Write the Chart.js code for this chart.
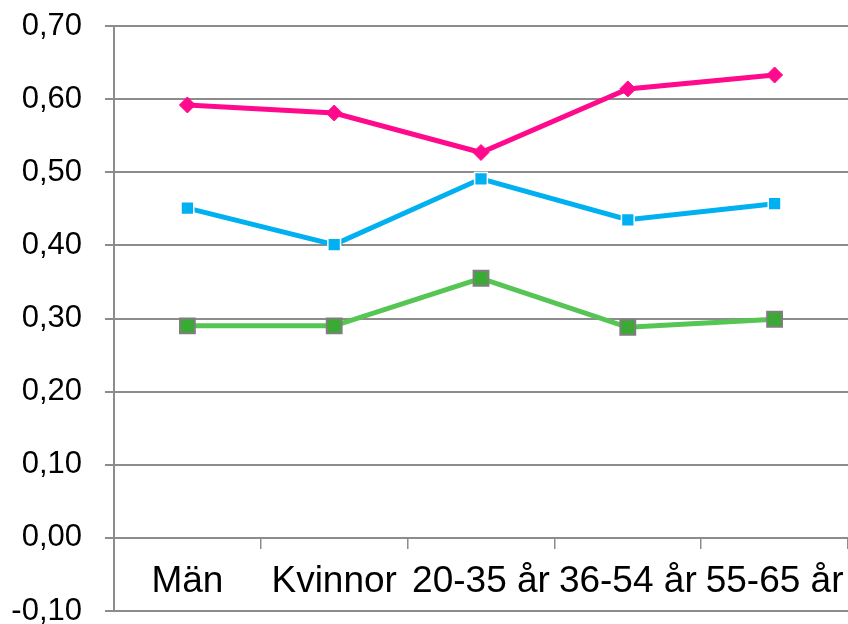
<!DOCTYPE html>
<html>
<head>
<meta charset="utf-8">
<script src="https://cdn.jsdelivr.net/npm/chart.js@4.4.0/dist/chart.umd.min.js"></script>
<style>
    html, body { margin: 0; padding: 0; background: #fff; overflow: hidden; }
</style>
</head>
<body>
<canvas id="lineChart" width="848" height="624"></canvas>
<script>
// categories and series
const categories = ['Män', 'Kvinnor', '20-35 år', '36-54 år', '55-65 år'];
const pinkValues = [0.592, 0.581, 0.527, 0.614, 0.633];
const blueValues = [0.451, 0.401, 0.491, 0.435, 0.457];
const greenValues = [0.290, 0.290, 0.355, 0.288, 0.299];
const yMin = -0.1;
const yMax = 0.7;
const yStep = 0.1;

Chart.defaults.font.family = '"Liberation Sans", Arial, sans-serif';
Chart.defaults.color = '#000';

const ctx = document.getElementById('lineChart').getContext('2d');

const data = {
    labels: categories,
    datasets: [
        {
            label: 'green',
            data: greenValues,
            borderColor: '#55c553',
            borderWidth: 5,
            pointStyle: 'rect',
            pointRadius: 10.5,
            pointBackgroundColor: '#3aaa35',
            pointBorderColor: '#7f7f7f',
            pointBorderWidth: 2,
            tension: 0
        },
        {
            label: 'blue',
            data: blueValues,
            borderColor: '#00b0f0',
            borderWidth: 5,
            pointStyle: 'rect',
            pointRadius: 9,
            pointBackgroundColor: '#00b0f0',
            pointBorderColor: '#ffffff',
            pointBorderWidth: 1.5,
            tension: 0
        },
        {
            label: 'pink',
            data: pinkValues,
            borderColor: '#ff0a8c',
            borderWidth: 5,
            pointStyle: 'rectRot',
            pointRadius: 8,
            pointBackgroundColor: '#ff0a8c',
            pointBorderColor: '#ff0a8c',
            pointBorderWidth: 1,
            tension: 0
        }
    ]
};

const options = {
    responsive: false,
    animation: false,
    layout: {
        autoPadding: false,
        padding: { top: 26, right: 0, left: 0, bottom: 13 }
    },
    plugins: {
        legend: { display: false },
        tooltip: { enabled: false }
    },
    scales: {
        x: {
            position: { y: 0 },
            offset: true,
            // axis sits on the zero line, so it should not take any layout space
            afterFit: s => { s.height = 0; s.paddingLeft = 0; s.paddingRight = 0; },
            grid: {
                offset: true,
                drawOnChartArea: false,
                color: '#8c8c8c',
                lineWidth: 1.5,
                tickLength: 10
            },
            border: { color: '#8c8c8c', width: 2 },
            ticks: {
                autoSkip: false,
                maxRotation: 0,
                minRotation: 0,
                padding: 12,
                font: { size: 37 }
            }
        },
        y: {
            min: yMin,
            max: yMax,
            afterFit: s => { s.width = 114; s.paddingTop = 0; s.paddingBottom = 0; },
            grid: {
                color: '#8c8c8c',
                lineWidth: 2,
                tickLength: 9
            },
            border: { color: '#8c8c8c', width: 2 },
            ticks: {
                stepSize: yStep,
                padding: 23,
                font: { size: 31 },
                callback: v => (Math.abs(v) < 1e-9 ? 0 : v).toFixed(2).replace('.', ',')
            }
        }
    }
};

new Chart(ctx, { type: 'line', data: data, options: options });
</script>
</body>
</html>
